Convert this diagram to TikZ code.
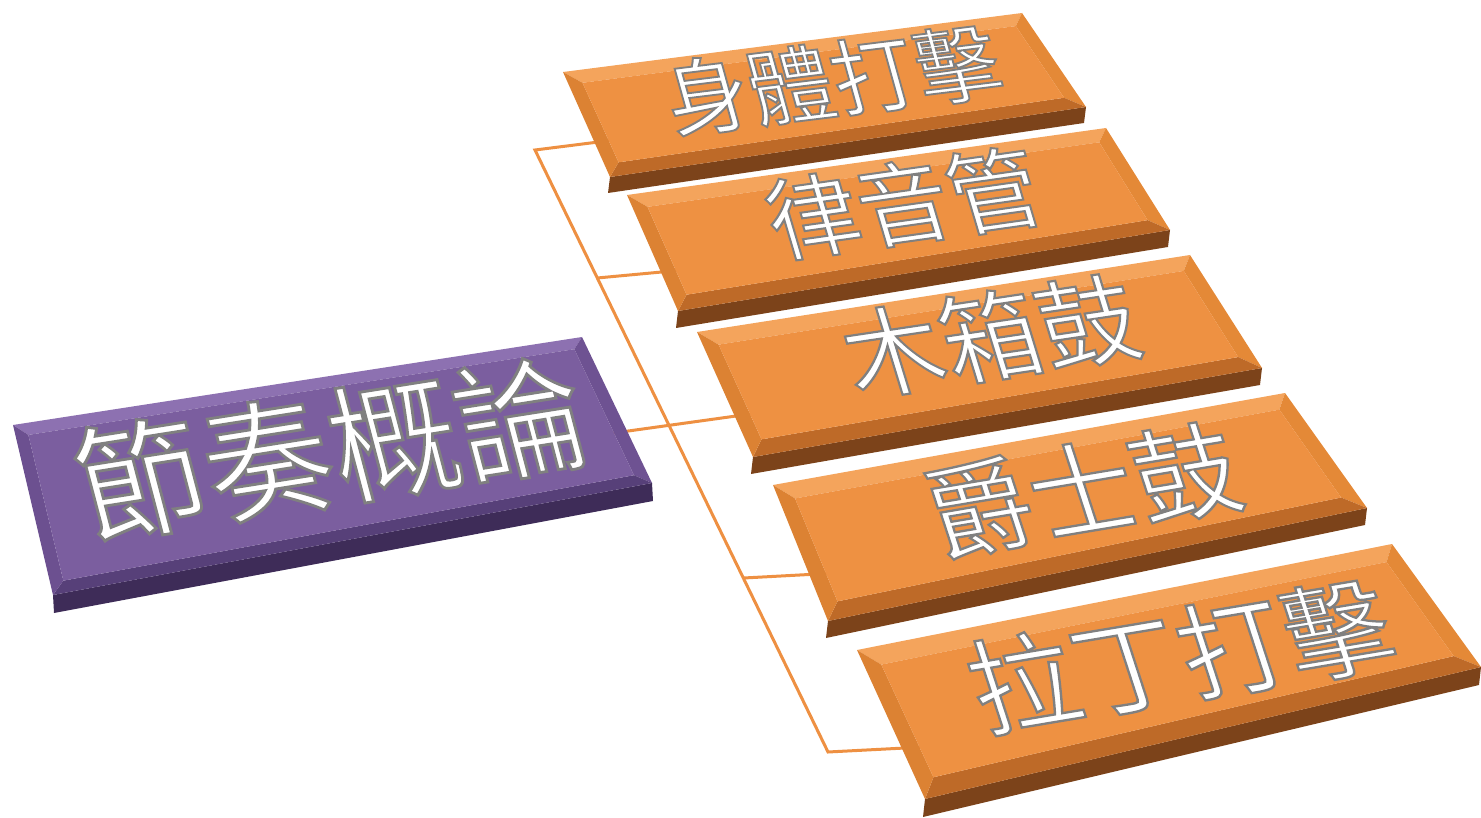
\documentclass[tikz,border=0pt]{standalone}
\usepackage{fontspec}
\newfontfamily\cjk[FakeBold=2.2]{Noto Sans CJK TC}
\usetikzlibrary{calc}
\definecolor{ormain}{HTML}{EE9142}
\definecolor{ortop}{HTML}{F4A45C}
\definecolor{orleft}{HTML}{DC8233}
\definecolor{orright}{HTML}{E48937}
\definecolor{orbottom}{HTML}{BE6A28}
\definecolor{orside}{HTML}{7C431A}
\definecolor{pumain}{HTML}{7B5E9F}
\definecolor{putop}{HTML}{8D71B1}
\definecolor{puleft}{HTML}{6C5090}
\definecolor{puright}{HTML}{6E5292}
\definecolor{pubottom}{HTML}{574079}
\definecolor{puside}{HTML}{3E2C58}
\definecolor{linkcol}{HTML}{EE9042}

% corners of the top face: A top-left, B top-right, C bottom-right, D bottom-left
\newcommand\defblock[5]{%
  \coordinate (#1-A) at #2;
  \coordinate (#1-B) at #3;
  \coordinate (#1-C) at #4;
  \coordinate (#1-D) at #5;
}
% name, thickness vector, bevel fraction along width, bevel fraction along depth, colour prefix
\newcommand\drawblock[5]{%
  \coordinate (#1-Ct) at ($(#1-C)+#2$);
  \coordinate (#1-Dt) at ($(#1-D)+#2$);
  \fill[#5side] (#1-D) -- (#1-C) -- (#1-Ct) -- (#1-Dt) -- cycle;
  \pgfmathsetmacro\sbb{1-#3}%
  \pgfmathsetmacro\tbb{1-#4}%
  \coordinate (#1-ab1) at ($(#1-A)!#3!(#1-B)$);
  \coordinate (#1-ab2) at ($(#1-A)!\sbb!(#1-B)$);
  \coordinate (#1-dc1) at ($(#1-D)!#3!(#1-C)$);
  \coordinate (#1-dc2) at ($(#1-D)!\sbb!(#1-C)$);
  \coordinate (#1-iA) at ($(#1-ab1)!#4!(#1-dc1)$);
  \coordinate (#1-iB) at ($(#1-ab2)!#4!(#1-dc2)$);
  \coordinate (#1-iC) at ($(#1-ab2)!\tbb!(#1-dc2)$);
  \coordinate (#1-iD) at ($(#1-ab1)!\tbb!(#1-dc1)$);
  \fill[#5top] (#1-A) -- (#1-B) -- (#1-iB) -- (#1-iA) -- cycle;
  \fill[#5right] (#1-B) -- (#1-C) -- (#1-iC) -- (#1-iB) -- cycle;
  \fill[#5bottom] (#1-C) -- (#1-D) -- (#1-iD) -- (#1-iC) -- cycle;
  \fill[#5left] (#1-D) -- (#1-A) -- (#1-iA) -- (#1-iD) -- cycle;
  \fill[#5main] (#1-iA) -- (#1-iB) -- (#1-iC) -- (#1-iD) -- cycle;
}
% name, position, size, angle, slant, text (white text with a grey edge)
\newcommand\blocktext[6]{%
  \node[txt={#3}, text=white, rotate=#4, xslant=#5] (#1) at #2
    {\special{pdf:literal direct 0.5 0.5 0.5 RG}#6};
}

\begin{document}
\begin{tikzpicture}[x=1pt,y=-1pt,
  txt/.style={font=\cjk\fontsize{#1}{#1}\selectfont, inner sep=0pt},
  linkline/.style={draw=linkcol, line width=3pt, line join=miter}]
\useasboundingbox (0,0) rectangle (1481,818);

\defblock{pu}{(13,425)}{(582,337)}{(652,483)}{(53,595)}
\defblock{b1}{(563,72)}{(1022,13)}{(1086,107)}{(610,177)}
\defblock{b2}{(627,195)}{(1106,128)}{(1170,230)}{(678,311)}
\defblock{b3}{(697,332)}{(1190,255)}{(1262,368)}{(753,457)}
\defblock{b4}{(773,485)}{(1285,393)}{(1367,508)}{(828,621)}
\defblock{b5}{(857,650)}{(1392,544)}{(1481,667)}{(925,799)}

% connectors
\coordinate (j1) at (535,150);
\coordinate (j5) at (828,752);
\coordinate (j2) at ($(j1)!0.2126!(j5)$);
\coordinate (j4) at ($(j1)!0.711!(j5)$);
\coordinate (b1-in) at ($(b1-A)!0.67!(b1-D)+(25,-3)$);
\coordinate (b2-in) at ($(b2-A)!0.67!(b2-D)+(25,-3)$);
\coordinate (b3-in) at ($(b3-A)!0.67!(b3-D)+(25,-3)$);
\coordinate (b4-in) at ($(b4-A)!0.67!(b4-D)+(25,-3)$);
\coordinate (b5-in) at ($(b5-A)!0.67!(b5-D)+(25,-3)$);
\coordinate (pu-in) at ($(pu-B)!0.65!(pu-C)+(-20,2)$);
\draw[linkline] (b1-in) -- (j1) -- (j5) -- (b5-in);
\draw[linkline] (j2) -- (b2-in);
\draw[linkline] (j4) -- (b4-in);
\draw[linkline] (pu-in) -- (b3-in);

% root block
\drawblock{pu}{(1,18)}{0.022}{0.07}{pu}
\blocktext{pu-t}{(330,449)}{128}{9}{-0.1}{節奏概論}

% child blocks
\drawblock{b1}{(-2,16)}{0.03}{0.12}{or}
\blocktext{b1-t}{(832,80)}{84}{7}{-0.15}{身體打擊}
\drawblock{b2}{(-2,17)}{0.03}{0.12}{or}
\blocktext{b2-t}{(903,203)}{91}{8}{-0.15}{律音管}
\drawblock{b3}{(-2,17)}{0.03}{0.12}{or}
\blocktext{b3-t}{(990,336)}{98}{8.5}{-0.15}{木箱鼓}
\drawblock{b4}{(-2,17)}{0.03}{0.12}{or}
\blocktext{b4-t}{(1082,490)}{104}{9.5}{-0.15}{爵士鼓}
\drawblock{b5}{(-2,18)}{0.03}{0.12}{or}
\blocktext{b5-t}{(1180,656)}{106}{9.5}{-0.15}{拉丁打擊}
\end{tikzpicture}
\end{document}
